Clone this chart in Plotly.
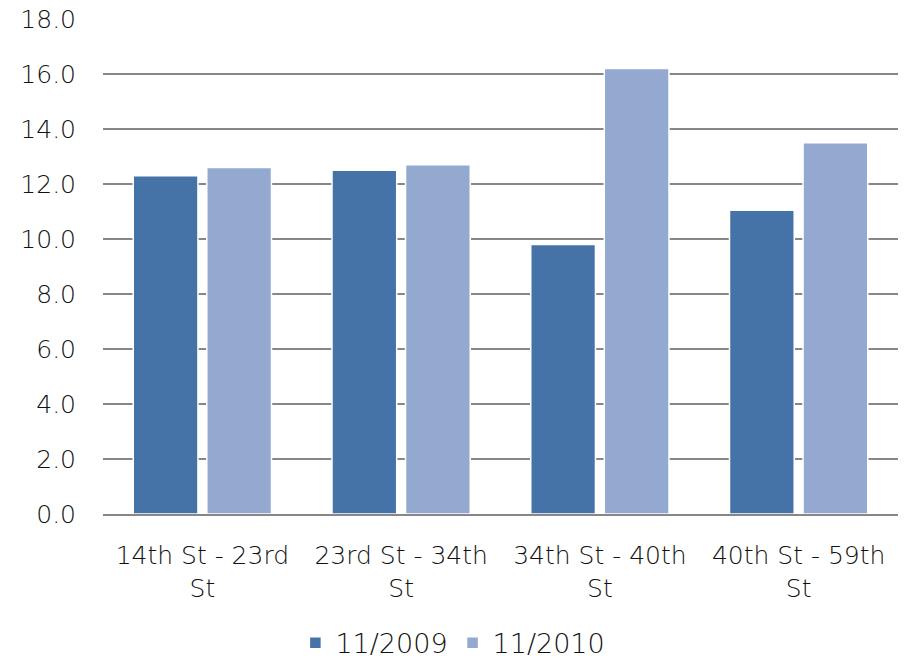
import plotly.graph_objects as go

categories = ["14th St - 23rd<br>St", "23rd St - 34th<br>St", "34th St - 40th<br>St", "40th St - 59th<br>St"]
series_2009 = [12.3, 12.5, 9.8, 11.05]
series_2010 = [12.6, 12.7, 16.2, 13.5]
tick_vals = [0, 2, 4, 6, 8, 10, 12, 14, 16, 18]
tick_text = ["0.0", "2.0", "4.0", "6.0", "8.0", "10.0", "12.0", "14.0", "16.0", "18.0"]

FONT = "DejaVu Sans"

fig = go.Figure()
fig.add_trace(go.Bar(x=categories, y=series_2009, name="11/2009",
                     marker=dict(color="#4572A7", line=dict(color="white", width=1.5))))
fig.add_trace(go.Bar(x=categories, y=series_2010, name="11/2010",
                     marker=dict(color="#94A9D0", line=dict(color="white", width=1.5))))

fig.update_layout(
    width=906, height=663,
    margin=dict(l=103, r=8, t=19, b=149, autoexpand=False),
    paper_bgcolor="white", plot_bgcolor="white",
    barmode="group", bargap=0.26, bargroupgap=0.12,
    font=dict(family=FONT, size=25, color="#111111", weight=300),
    showlegend=True,
    legend=dict(orientation="h", x=0.242, xanchor="left", yref="container",
                y=0.03, yanchor="middle", font=dict(size=27, weight=300),
                itemwidth=30, traceorder="normal", tracegroupgap=0),
    xaxis=dict(showline=True, linecolor="#878787", linewidth=2, ticks="",
               tickfont=dict(size=25), showgrid=False, automargin=False,
               ticklabelstandoff=18),
    yaxis=dict(range=[0, 18], tickvals=tick_vals, ticktext=tick_text,
               showgrid=True, gridcolor="#878787", gridwidth=2, zeroline=False,
               showline=False, ticks="", ticklabelstandoff=26, automargin=False,
               tickfont=dict(size=25)),
)

fig.write_html("out.html")
